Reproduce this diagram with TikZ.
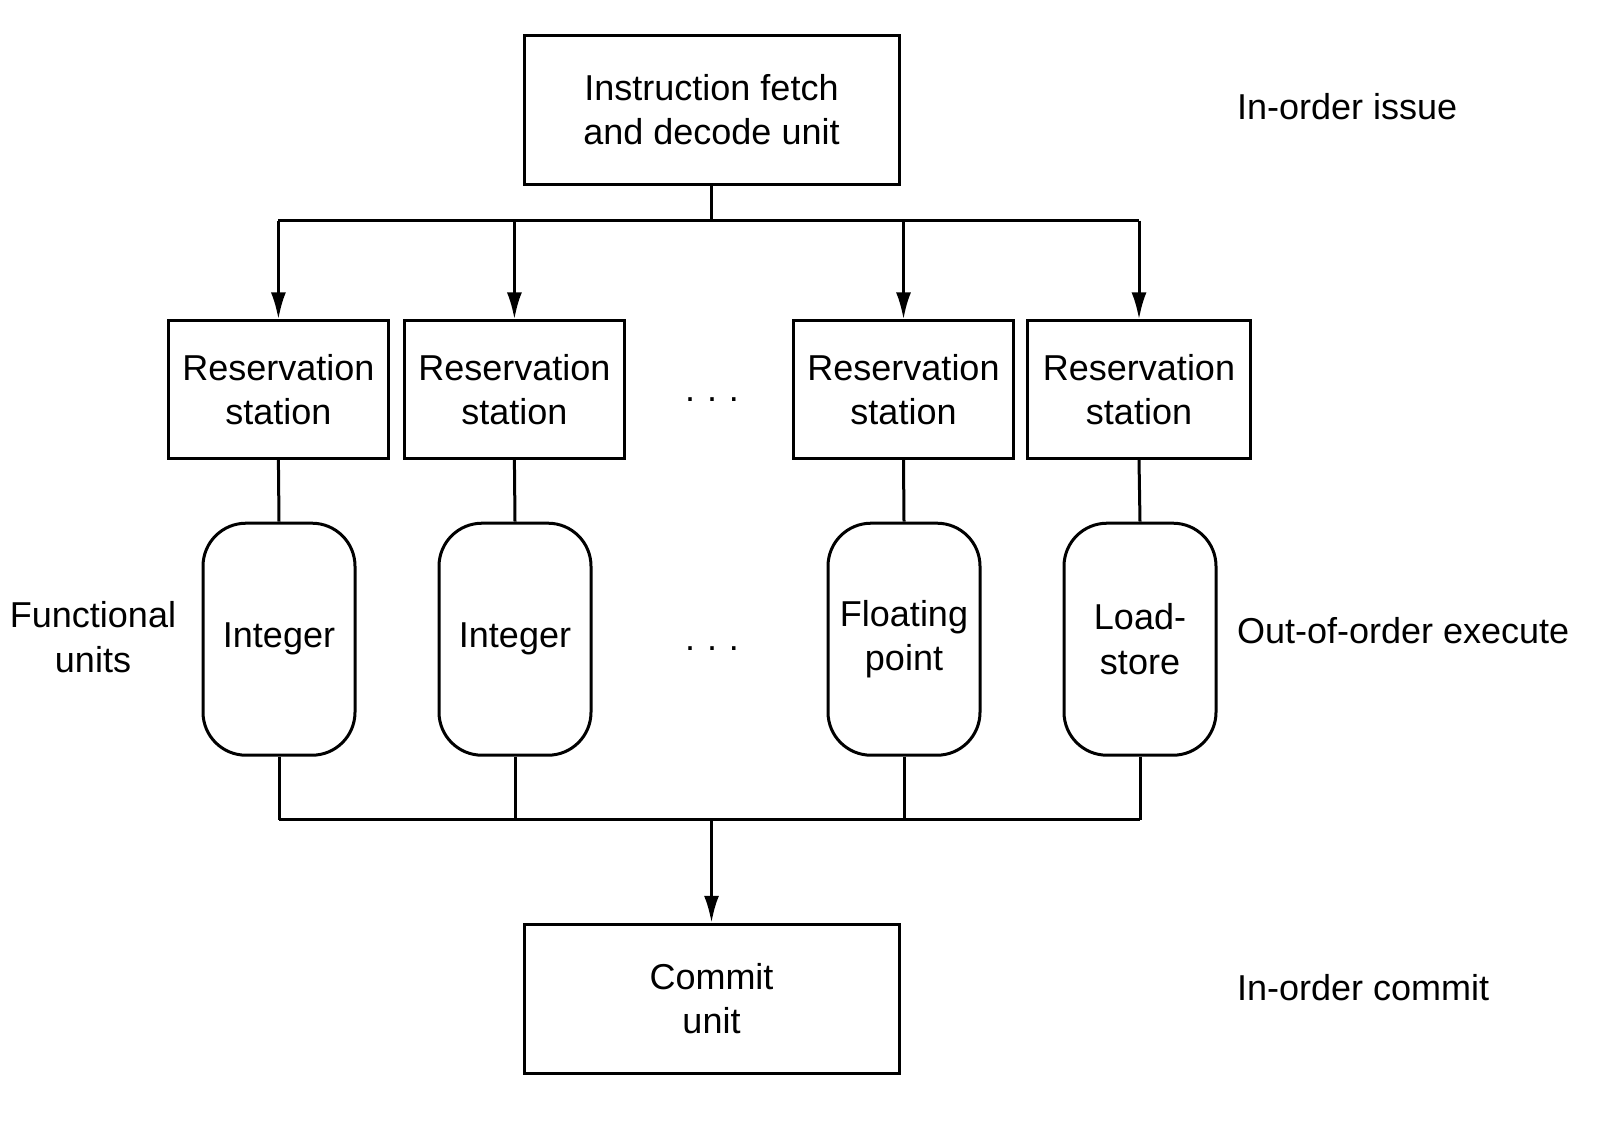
\documentclass[tikz,border=0pt]{standalone}
\usepackage{fontspec}
\setmainfont{Liberation Sans}
\usetikzlibrary{arrows.meta}
\begin{document}
\begin{tikzpicture}[x=1pt,y=-1pt,
  every node/.style={font=\fontsize{36}{44.5}\selectfont, align=center, inner sep=0pt},
  bigbox/.style={draw, line width=3pt, minimum width=375pt, minimum height=149pt},
  rsbox/.style={draw, line width=3pt, minimum width=220pt, minimum height=137.6pt},
  fubox/.style={draw, line width=3pt, rounded corners=43pt, minimum width=152pt, minimum height=232pt},
  wire/.style={line width=3pt},
  arr/.style={line width=3pt, -{Latex[length=27pt,width=15pt]}},
  side/.style={anchor=west}]
\useasboundingbox (0,0) rectangle (1619,1125);
\fill[white] (0,0) rectangle (1619,1125);

\node[bigbox] (ifd) at (711.5,109.7) {Instruction fetch\\and decode unit};

\node[rsbox] (rs1) at (278.4,389.7) {Reservation\\station};
\node[rsbox] (rs2) at (514.4,389.7) {Reservation\\station};
\node[rsbox] (rs3) at (903.5,389.7) {Reservation\\station};
\node[rsbox, minimum width=222.5pt] (rs4) at (1139,389.7) {Reservation\\station};
\node (dots1) at (712,400) {.\,\,.\,\,.};

\node[fubox] (fu1) at (279,639.2) {Integer};
\node[fubox] (fu2) at (515,639.2) {Integer};
\node[fubox] (fu3) at (904,639.2) {Floating\\point};
\node[fubox] (fu4) at (1140,639.2) {Load-\\store};
\node (dots2) at (712,649) {.\,\,.\,\,.};

\node[bigbox] (cu) at (711.5,998.8) {Commit\\unit};

\node (fl) at (93,637) {Functional\\units};
\node[side] (l1) at (1236.8,106.6) {In-order issue};
\node[side] (l2) at (1236.8,631) {Out-of-order execute};
\node[side] (l3) at (1236.8,988) {In-order commit};

% issue bus
\coordinate (busT) at (711.5,220.5);
\draw[wire] (ifd.south) -- (busT);
\draw[wire] (rs1.north |- busT) -- (rs4.north |- busT);
\foreach \r in {rs1,rs2,rs3,rs4}{
  \draw[arr] (\r.north |- busT) -- (\r.north);
}
% RS to FU
\foreach \i in {1,2,3,4}{
  \draw[wire] (rs\i.south) -- (fu\i.north);
}
% result bus
\coordinate (busB) at (711.5,819.7);
\foreach \i in {1,2,3,4}{
  \draw[wire] (fu\i.south) -- (fu\i.south |- busB);
}
\draw[wire] (fu1.south |- busB) -- (fu4.south |- busB);
\draw[arr] (busB) -- (cu.north);
\end{tikzpicture}
\end{document}
